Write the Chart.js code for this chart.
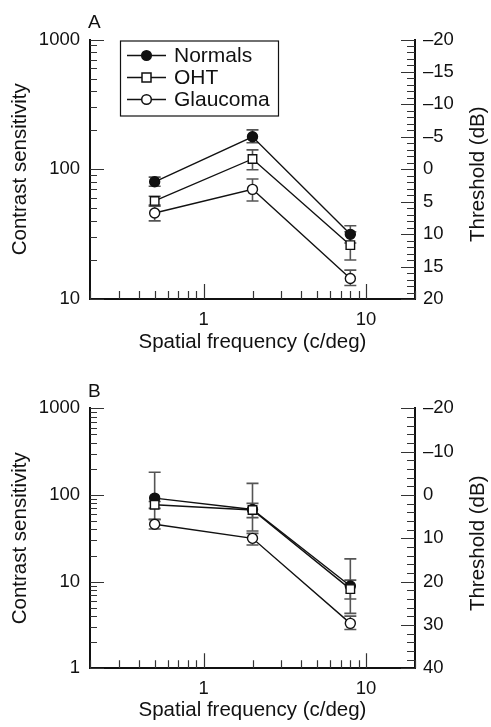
<!DOCTYPE html>
<html>
<head>
<meta charset="utf-8">
<script src="https://cdn.jsdelivr.net/npm/chart.js@4.4.1/dist/chart.umd.min.js"></script>
<style>
  body { margin: 0; background: #fff; width: 491px; height: 727px; position: relative; }
  canvas { position: absolute; left: 0; }
  #chartA { top: 0; }
  #chartB { top: 365px; }
</style>
</head>
<body>
<canvas id="chartA" width="491" height="362"></canvas>
<canvas id="chartB" width="491" height="362"></canvas>
<script>
// spatial frequencies (c/deg)
const freq = [0.5, 2, 8];
const seriesNames = ['Normals', 'OHT', 'Glaucoma'];

// Panel A - contrast sensitivity, with error bar ends
const normalsA = [80, 178, 31.5];
const normalsALow = [74, 160, 27];
const normalsAHigh = [87, 201, 36.7];
const ohtA = [57, 120, 26];
const ohtALow = [52, 99, 20];
const ohtAHigh = [62, 141, 33];
const glaucomaA = [46, 70, 14.4];
const glaucomaALow = [40, 57, 12.7];
const glaucomaAHigh = [53, 84, 16.7];

// Panel B
const normalsB = [92, 68, 8.9];
const normalsBLow = [52.5, 38.4, 4.3];
const normalsBHigh = [183, 136, 18.3];
const ohtB = [77, 67, 8.2];
const ohtBLow = [70, 54.7, 6.3];
const ohtBHigh = [84, 80, 10.4];
const glaucomaB = [46, 31.6, 3.3];
const glaucomaBLow = [40.5, 26.5, 2.8];
const glaucomaBHigh = [52, 36, 4.0];

// tick labels
const freqLabels = [1, 10];
const csLabelsA = [10, 100, 1000];
const csLabelsB = [1, 10, 100, 1000];
const dbLabelsA = [-20, -15, -10, -5, 0, 5, 10, 15, 20];
const dbLabelsB = [-20, -10, 0, 10, 20, 30, 40];

const FONT = 'Liberation Sans';
const INK = '#111';

// 1..9 per decade, between min and max
function logTicks(min, max) {
    const out = [];
    for (let d = 0.1; d <= max; d *= 10) {
        for (let m = 1; m <= 9; m++) {
            const v = +(m * d).toPrecision(3);
            if (v >= min && v <= max) out.push(v);
        }
    }
    return out;
}
function linTicks(min, max, step) {
    const out = [];
    for (let v = min; v <= max; v += step) out.push(v);
    return out;
}
function dash(v) {
    return v < 0 ? '\u2013' + Math.abs(v) : String(v);
}

const inwardTicks = {
    id: 'inwardTicks',
    afterDraw(chart) {
        const ctx = chart.ctx;
        const a = chart.chartArea;
        ctx.save();
        ctx.strokeStyle = '#333';
        ctx.lineWidth = 1.2;
        ctx.beginPath();
        const sx = chart.scales.x;
        sx.ticks.forEach(t => {
            const p = Math.round(sx.getPixelForValue(t.value)) + 0.5;
            const len = t.major ? 15 : 8;
            ctx.moveTo(p, a.bottom);
            ctx.lineTo(p, a.bottom - len);
        });
        const sy = chart.scales.y;
        sy.ticks.forEach(t => {
            const p = Math.round(sy.getPixelForValue(t.value)) + 0.5;
            const len = t.major ? 14 : 7;
            ctx.moveTo(a.left, p);
            ctx.lineTo(a.left + len, p);
        });
        const sy2 = chart.scales.y2;
        sy2.ticks.forEach(t => {
            const p = Math.round(sy2.getPixelForValue(t.value)) + 0.5;
            const len = t.major ? 14 : 8;
            ctx.moveTo(a.right, p);
            ctx.lineTo(a.right - len, p);
        });
        ctx.stroke();
        ctx.restore();
    }
};

const errorBars = {
    id: 'errorBars',
    beforeDatasetsDraw(chart) {
        const ctx = chart.ctx;
        const sx = chart.scales.x, sy = chart.scales.y;
        ctx.save();
        ctx.strokeStyle = '#555';
        ctx.lineWidth = 1.6;
        chart.data.datasets.forEach(ds => {
            ds.data.forEach((pt, i) => {
                const x = sx.getPixelForValue(pt.x);
                const y1 = sy.getPixelForValue(ds.errLow[i]);
                const y2 = sy.getPixelForValue(ds.errHigh[i]);
                ctx.beginPath();
                ctx.moveTo(x, y1); ctx.lineTo(x, y2);
                ctx.moveTo(x - 6, y1); ctx.lineTo(x + 6, y1);
                ctx.moveTo(x - 6, y2); ctx.lineTo(x + 6, y2);
                ctx.stroke();
            });
        });
        ctx.restore();
    }
};

const extras = {
    id: 'extras',
    afterDraw(chart, args, opts) {
        const ctx = chart.ctx;
        const a = chart.chartArea;
        ctx.save();
        ctx.fillStyle = INK;
        // panel letter
        ctx.font = '19px "' + FONT + '"';
        ctx.textAlign = 'left';
        ctx.textBaseline = 'middle';
        ctx.fillText(opts.letter, a.left - 2, a.top - 17);
        // right axis title, reading upward
        ctx.font = '20.5px "' + FONT + '"';
        ctx.translate(478, (a.top + a.bottom) / 2 + 5);
        ctx.rotate(-Math.PI / 2);
        ctx.textAlign = 'center';
        ctx.fillText('Threshold (dB)', 0, 0);
        ctx.restore();

        if (!opts.legend) return;
        ctx.save();
        const bx = a.left + 30, by = a.top + 1, bw = 158, bh = 75;
        ctx.strokeStyle = INK;
        ctx.lineWidth = 1.2;
        ctx.strokeRect(bx + 0.5, by + 0.5, bw, bh);
        ctx.font = '21px "' + FONT + '"';
        ctx.textBaseline = 'middle';
        chart.data.datasets.forEach((ds, i) => {
            const ry = by + 15 + i * 22;
            ctx.strokeStyle = INK;
            ctx.lineWidth = 1.5;
            ctx.beginPath();
            ctx.moveTo(bx + 7, ry); ctx.lineTo(bx + 46, ry);
            ctx.stroke();
            ctx.fillStyle = ds.pointBackgroundColor;
            ctx.beginPath();
            if (ds.pointStyle === 'rect') ctx.rect(bx + 22, ry - 4.5, 9, 9);
            else ctx.arc(bx + 26.5, ry, 4.8, 0, Math.PI * 2);
            ctx.fill();
            ctx.stroke();
            ctx.fillStyle = INK;
            ctx.fillText(ds.label, bx + 54, ry + 1);
        });
        ctx.restore();
    }
};

function pts(ys) {
    return freq.map((f, i) => ({ x: f, y: ys[i] }));
}

function makeDataset(label, ys, lo, hi, style, fill, order) {
    return {
        label: label,
        data: pts(ys),
        errLow: lo,
        errHigh: hi,
        borderColor: INK,
        borderWidth: 1.4,
        pointStyle: style,
        pointRadius: style === 'rect' ? 6 : 5,
        pointBorderWidth: 1.4,
        pointBorderColor: INK,
        pointBackgroundColor: fill,
        tension: 0,
        order: order,
        clip: false
    };
}

function makePanel(id, cfg) {
    const tickFont = { family: FONT, size: 18.5 };
    new Chart(document.getElementById(id), {
        type: 'line',
        data: {
            datasets: [
                makeDataset(seriesNames[0], cfg.normals[0], cfg.normals[1], cfg.normals[2], 'circle', INK, 2),
                makeDataset(seriesNames[1], cfg.oht[0], cfg.oht[1], cfg.oht[2], 'rect', '#fff', 1),
                makeDataset(seriesNames[2], cfg.glaucoma[0], cfg.glaucoma[1], cfg.glaucoma[2], 'circle', '#fff', 0)
            ]
        },
        options: {
            responsive: false,
            animation: false,
            layout: { padding: { top: cfg.top, left: 0, right: 0, bottom: 0 } },
            plugins: {
                legend: { display: false },
                tooltip: { enabled: false },
                extras: { letter: cfg.letter, legend: cfg.legend }
            },
            scales: {
                x: {
                    type: 'logarithmic',
                    position: 'bottom',
                    min: 0.2,
                    max: 20,
                    afterBuildTicks: s => {
                        s.ticks = logTicks(0.2, 20).map(v => ({ value: v, major: freqLabels.includes(v) }));
                    },
                    afterFit: s => { s.height = cfg.xHeight; },
                    grid: { display: false },
                    border: { display: true, color: INK, width: 2 },
                    ticks: {
                        autoSkip: false,
                        maxRotation: 0,
                        padding: 2,
                        color: INK,
                        font: tickFont,
                        callback: v => freqLabels.includes(v) ? String(v) : ''
                    },
                    title: {
                        display: true,
                        text: 'Spatial frequency (c/deg)',
                        color: INK,
                        font: { family: FONT, size: 20.5 },
                        padding: { top: 0, bottom: cfg.titlePad }
                    }
                },
                y: {
                    type: 'logarithmic',
                    position: 'left',
                    min: cfg.csMin,
                    max: 1000,
                    afterBuildTicks: s => {
                        s.ticks = logTicks(cfg.csMin, 1000).map(v => ({ value: v, major: cfg.csLabels.includes(v) }));
                    },
                    afterFit: s => { s.width = 90; },
                    grid: { display: false },
                    border: { display: true, color: INK, width: 2 },
                    ticks: {
                        autoSkip: false,
                        padding: 2,
                        color: INK,
                        font: tickFont,
                        callback: v => cfg.csLabels.includes(v) ? String(v) : ''
                    },
                    title: {
                        display: true,
                        text: 'Contrast sensitivity',
                        color: INK,
                        font: { family: FONT, size: 20.5 },
                        padding: { top: 8, bottom: 0 }
                    }
                },
                y2: {
                    type: 'linear',
                    position: 'right',
                    reverse: true,
                    min: -20,
                    max: cfg.dbMax,
                    afterBuildTicks: s => {
                        s.ticks = linTicks(-20, cfg.dbMax, cfg.dbStep).map(v => ({ value: v, major: cfg.dbLabels.includes(v) }));
                    },
                    afterFit: s => { s.width = 76; },
                    grid: { display: false },
                    border: { display: true, color: INK, width: 2 },
                    ticks: {
                        autoSkip: false,
                        padding: 0,
                        color: INK,
                        font: tickFont,
                        callback: v => cfg.dbLabels.includes(v) ? dash(v) : ''
                    }
                }
            }
        },
        plugins: [errorBars, inwardTicks, extras]
    });
}

makePanel('chartA', {
    letter: 'A', legend: true, top: 39.5, xHeight: 63, titlePad: 7,
    csMin: 10, csLabels: csLabelsA, dbMax: 20, dbStep: 1, dbLabels: dbLabelsA,
    normals: [normalsA, normalsALow, normalsAHigh],
    oht: [ohtA, ohtALow, ohtAHigh],
    glaucoma: [glaucomaA, glaucomaALow, glaucomaAHigh]
});

makePanel('chartB', {
    letter: 'B', legend: false, top: 43.3, xHeight: 58.7, titlePad: 4,
    csMin: 1, csLabels: csLabelsB, dbMax: 40, dbStep: 2, dbLabels: dbLabelsB,
    normals: [normalsB, normalsBLow, normalsBHigh],
    oht: [ohtB, ohtBLow, ohtBHigh],
    glaucoma: [glaucomaB, glaucomaBLow, glaucomaBHigh]
});
</script>
</body>
</html>
